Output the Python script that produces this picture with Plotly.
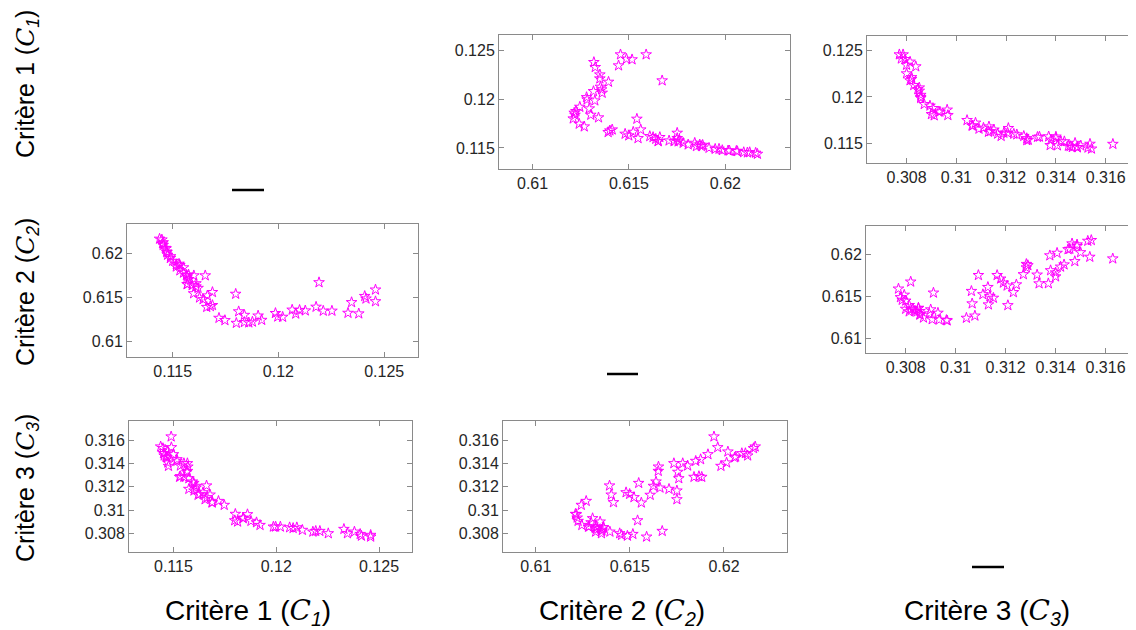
import plotly.graph_objects as go

# ---- data: each point is (C1, C2, C3) ----
c1 = [0.12380, 0.12329, 0.12253, 0.12212, 0.12178, 0.12127, 0.12100, 0.12065, 0.12082, 0.12020,
      0.11997, 0.11986, 0.11921, 0.11904, 0.11877, 0.11860, 0.11839, 0.11839, 0.11812, 0.11801,
      0.11747, 0.11719, 0.11661, 0.11678, 0.11688,
      0.12459, 0.12346, 0.12414, 0.12408, 0.12459, 0.12192,
      0.11798, 0.11688, 0.11599, 0.11664, 0.11644, 0.11627,
      0.11620, 0.11610, 0.11592, 0.11568, 0.11570, 0.11610, 0.11575, 0.11568, 0.11654, 0.11600,
      0.11565, 0.11575, 0.11551, 0.11534, 0.11551, 0.11517, 0.11534, 0.11517, 0.11530, 0.11500,
      0.11489, 0.11490, 0.11476, 0.11473, 0.11472, 0.11469, 0.11465, 0.11455, 0.11452, 0.11455,
      0.11449, 0.11438]
c2 = [0.61318, 0.61325, 0.61349, 0.61349, 0.61394, 0.61352, 0.61358, 0.61361, 0.61316, 0.61280,
      0.61283, 0.61323, 0.61245, 0.61294, 0.61225, 0.61216, 0.61220, 0.61302, 0.61342, 0.61211,
      0.61242, 0.61268, 0.61392, 0.61401, 0.61413,
      0.61456, 0.61446, 0.61487, 0.61516, 0.61589, 0.61672,
      0.61541, 0.61561, 0.61547, 0.61522, 0.61480, 0.61499,
      0.61608, 0.61625, 0.61639, 0.61651, 0.61652, 0.61660, 0.61708, 0.61734, 0.61750, 0.61750,
      0.61755, 0.61760, 0.61781, 0.61807, 0.61841, 0.61850, 0.61867, 0.61876, 0.61882, 0.61915,
      0.61947, 0.61967, 0.61984, 0.62014, 0.62021, 0.62057, 0.62062, 0.62095, 0.62114, 0.62126,
      0.62157, 0.62166]
c3 = [0.30814, 0.30837, 0.30800, 0.30820, 0.30814, 0.30829, 0.30851, 0.30851, 0.30845, 0.30857,
      0.30857, 0.30857, 0.30871, 0.30894, 0.30906, 0.30963, 0.30934, 0.30929, 0.30900, 0.30966,
      0.31043, 0.31077, 0.31209, 0.31131, 0.31066,
      0.30786, 0.30800, 0.30779, 0.30794, 0.30771, 0.30820,
      0.30911, 0.31063, 0.31231, 0.31109, 0.31151, 0.31137,
      0.31129, 0.31206, 0.31243, 0.31334, 0.31371, 0.31191, 0.31180, 0.31400, 0.31091, 0.31166,
      0.31326, 0.31271, 0.31400, 0.31380, 0.31283, 0.31420, 0.31289, 0.31434, 0.31283, 0.31477,
      0.31629, 0.31537, 0.31377, 0.31406, 0.31500, 0.31450, 0.31457, 0.31486, 0.31486, 0.31466,
      0.31529, 0.31543]

tick_c1 = [0.115, 0.12, 0.125]
lab_c1 = ["0.115", "0.12", "0.125"]
tick_c2 = [0.61, 0.615, 0.62]
lab_c2 = ["0.61", "0.615", "0.62"]
tick_c3 = [0.308, 0.31, 0.312, 0.314, 0.316]
lab_c3 = ["0.308", "0.31", "0.312", "0.314", "0.316"]

labels = ["Critère 1", "Critère 2", "Critère 3"]

# ---- layout geometry ----
W, H = 1136, 630
OFF = 8  # page body margin


def px(x):
    return min(max((x - OFF) / W, 0.0), 1.0)


def py(y):
    return min(max(1 - (y - OFF) / H, 0.0), 1.0)


rng = {1: [0.11284, 0.12660], 2: [0.60826, 0.62335], 3: [0.30641, 0.31763]}
ticks = {1: (tick_c1, lab_c1), 2: (tick_c2, lab_c2), 3: (tick_c3, lab_c3)}
vals = {1: c1, 2: c2, 3: c3}

# (row, col): (x0, x1, y0, y1) in screen pixels, top-left origin
panels = {
    (1, 2): (499, 790, 35, 169),
    (1, 3): (867, 1144, 36, 163),
    (2, 1): (127, 418, 224, 357),
    (2, 3): (866, 1144, 226, 353),
    (3, 1): (129, 412, 421, 552),
    (3, 2): (503, 787, 421, 552),
}
rng3_clip = [0.30641, 0.31754]

fig = go.Figure()
axis_col = "#8a8a8a"
tfont = dict(family="Liberation Sans, Arial, sans-serif", size=16, color="#262626")

layout = {}
for k, ((row, col), (x0, x1, y0, y1)) in enumerate(panels.items(), start=1):
    xa = "xaxis" if k == 1 else f"xaxis{k}"
    ya = "yaxis" if k == 1 else f"yaxis{k}"
    xr = rng3_clip if col == 3 else rng[col]
    fig.add_trace(go.Scatter(
        x=vals[col], y=vals[row], mode="markers",
        marker=dict(symbol="star-open", size=8, color="#ff00ff", line=dict(width=1, color="#ff00ff")),
        xaxis="x" if k == 1 else f"x{k}", yaxis="y" if k == 1 else f"y{k}",
        showlegend=False, hoverinfo="skip"))
    common = dict(showgrid=False, zeroline=False, showline=True, linecolor=axis_col, linewidth=1,
                  ticks="inside", ticklen=5, tickcolor=axis_col, tickfont=tfont)
    layout[xa] = dict(domain=[px(x0), px(x1)], range=xr, tickvals=ticks[col][0], ticktext=ticks[col][1],
                      anchor="y" if k == 1 else f"y{k}", mirror="allticks", **common)
    layout[ya] = dict(domain=[py(y1), py(y0)], range=rng[row], tickvals=ticks[row][0],
                      ticktext=ticks[row][1], anchor="x" if k == 1 else f"x{k}",
                      mirror="allticks", **common)

fig.update_layout(**layout)

# diagonal short dashes
for (xa0, xa1, yy) in [(232, 264, 190), (607, 638, 374), (972, 1004, 567)]:
    fig.add_shape(type="line", xref="paper", yref="paper", x0=px(xa0), x1=px(xa1),
                  y0=py(yy), y1=py(yy), line=dict(color="black", width=2.5))


def lab(i):
    return (f"{labels[i]} (<span style='font-family:DejaVu Serif'><i>C</i></span>"
            f"<sub><i>{i + 1}</i></sub>)")


left_font = dict(family="Liberation Sans, Arial, sans-serif", size=25, color="black")
bottom_font = dict(family="Liberation Sans, Arial, sans-serif", size=28, color="black")

for i, yc in enumerate([84, 292, 488]):
    fig.add_annotation(text=lab(i), xref="paper", yref="paper", x=px(27), y=py(yc),
                       textangle=-90, showarrow=False, font=left_font, xanchor="center", yanchor="middle")
for i, xc in enumerate([248, 622, 987]):
    fig.add_annotation(text=lab(i), xref="paper", yref="paper", x=px(xc), y=py(612),
                       showarrow=False, font=bottom_font, xanchor="center", yanchor="middle")

fig.update_layout(width=W, height=H, margin=dict(l=0, r=0, t=0, b=0),
                  paper_bgcolor="white", plot_bgcolor="white")
fig.write_html("out.html")
